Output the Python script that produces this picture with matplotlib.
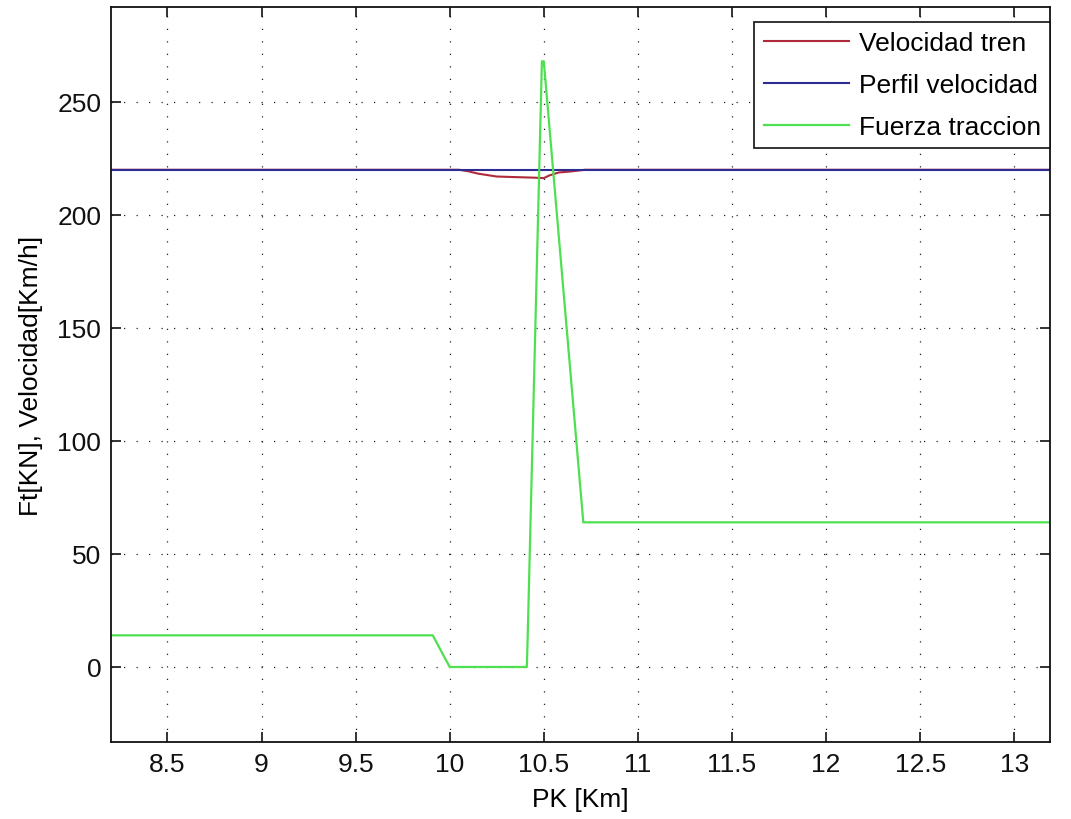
import matplotlib.pyplot as plt
import matplotlib

matplotlib.rcParams['font.family'] = ['Liberation Sans', 'DejaVu Sans']

# PK [Km] y valores de cada serie
pk_fuerza = [8.2, 9.91, 10.0, 10.41, 10.415, 10.49, 10.5, 10.71, 13.2]
fuerza = [14, 14, 0, 0, 15, 268, 268, 64, 64]

pk_tren = [8.2, 10.05, 10.1, 10.15, 10.25, 10.45, 10.5, 10.53, 10.58, 10.65, 10.72, 13.2]
vel_tren = [220, 220, 219.3, 218.3, 217.0, 216.5, 216.3, 217.5, 218.8, 219.3, 220, 220]

pk_perfil = [8.2, 13.2]
perfil = [220, 220]

xticks = [8.5, 9, 9.5, 10, 10.5, 11, 11.5, 12, 12.5, 13]
xticklabels = ['8.5', '9', '9.5', '10', '10.5', '11', '11.5', '12', '12.5', '13']
yticks = [0, 50, 100, 150, 200, 250]

fig = plt.figure(figsize=(10.71, 8.2), dpi=100)
ax = fig.add_axes([0.1036, 0.0939, 0.8768, 0.8963])

ax.plot(pk_tren, vel_tren, color='#b02a3c', lw=1.5, label='Velocidad tren')
ax.plot(pk_perfil, perfil, color='#2c2c92', lw=1.5, label='Perfil velocidad')
ax.plot(pk_fuerza, fuerza, color='#4fe04f', lw=1.6, label='Fuerza traccion')

ax.set_xlim(8.2, 13.19)
ax.set_ylim(-33.2, 292)
ax.set_xticks(xticks)
ax.set_xticklabels(xticklabels)
ax.set_yticks(yticks)

ax.grid(True, color='#222222', linestyle=(0, (1, 9)), linewidth=0.9)
ax.tick_params(direction='in', length=7, width=1.2, top=True, right=True,
               labelsize=19, pad=7, colors='#111111')
for s in ax.spines.values():
    s.set_linewidth(1.3)
    s.set_color('#111111')

ax.set_xlabel('PK [Km]', fontsize=19, labelpad=8)
ax.set_ylabel('Ft[KN], Velocidad[Km/h]', fontsize=19, labelpad=10)

leg = ax.legend(loc='upper right', bbox_to_anchor=(1.0, 0.98), fontsize=19,
                fancybox=False, edgecolor='#111111', framealpha=1,
                borderaxespad=0, handlelength=3.25, handletextpad=0.35,
                labelspacing=0.68, borderpad=0.35)
leg.get_frame().set_linewidth(1.2)

plt.savefig('out.png', dpi=100)
plt.close()
